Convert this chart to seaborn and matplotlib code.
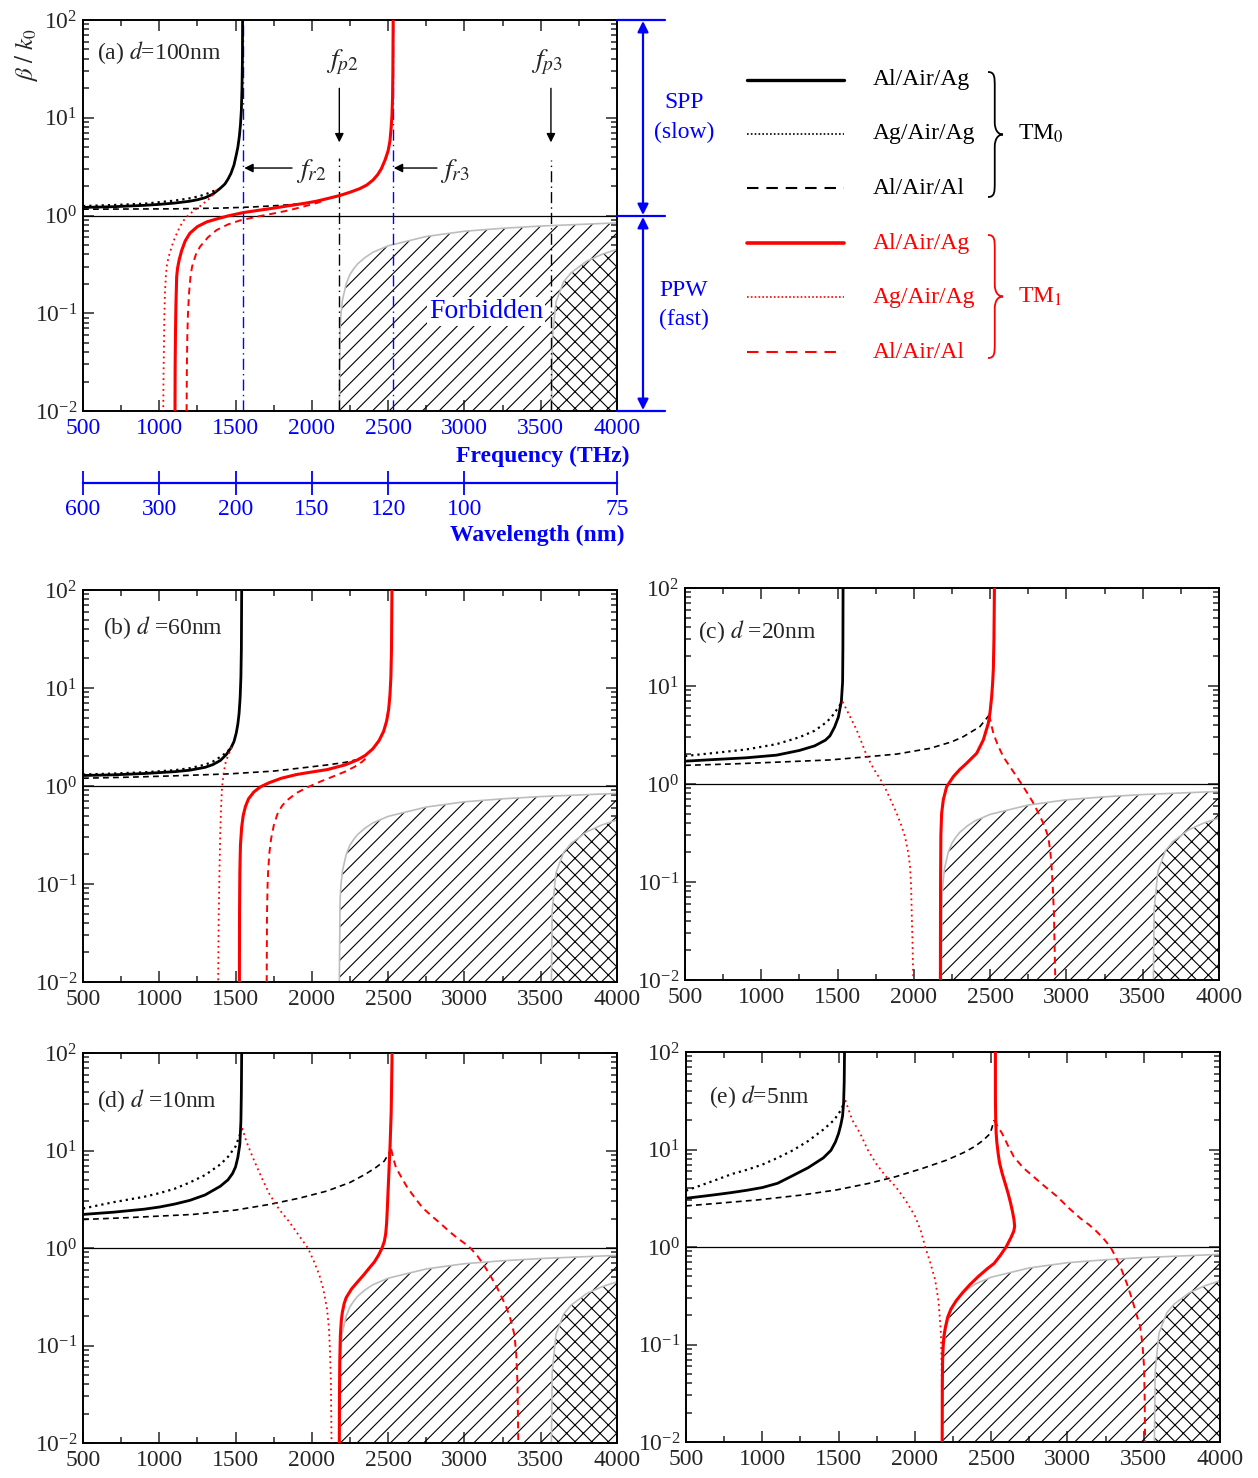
import numpy as np
import pandas as pd
import matplotlib
matplotlib.use("Agg")
import matplotlib.pyplot as plt
import seaborn as sns
from matplotlib.ticker import MultipleLocator, LogLocator, NullFormatter
from matplotlib.path import Path
from matplotlib.patches import PathPatch


W, H = 1258, 1478

# dispersion curves: (frequency in THz, beta/k0)
# TM0: al/air/ag (solid), ag/air/ag (dotted), al/air/al (dashed)
# TM1: same, in red

# (a) d = 100 nm
a_tm0_alag = ([500, 600, 700, 800, 900, 1000, 1100, 1200, 1250, 1300, 1350, 1400, 1430, 1450, 1470,
               1490, 1505, 1515, 1525, 1532, 1538, 1542, 1545, 1546],
              [1.21, 1.22, 1.23, 1.25, 1.27, 1.30, 1.34, 1.40, 1.45, 1.52, 1.65, 1.90, 2.1, 2.35, 2.7,
               3.3, 4.2, 5.0, 6.5, 8.5, 12, 20, 40, 100])
a_tm0_agag = ([500, 700, 900, 1100, 1200, 1250, 1300, 1340, 1372],
              [1.25, 1.28, 1.32, 1.42, 1.50, 1.56, 1.64, 1.74, 1.82])
a_tm0_alal = ([500, 800, 1100, 1400, 1600, 1800, 1950, 2060],
              [1.16, 1.165, 1.17, 1.19, 1.22, 1.27, 1.33, 1.40])
a_tm1_alag = ([1103, 1104, 1106, 1109, 1114, 1120, 1130, 1147, 1170, 1201, 1250, 1311, 1374, 1450,
               1549, 1650, 1750, 1850, 1950, 2030, 2110, 2182, 2250, 2313, 2360, 2400, 2430, 2455,
               2480, 2500, 2512, 2520, 2525, 2529, 2531, 2533],
              [0.01, 0.03, 0.06, 0.12, 0.237, 0.29, 0.35, 0.44, 0.55, 0.66, 0.77, 0.86, 0.92, 0.99,
               1.07, 1.13, 1.19, 1.26, 1.33, 1.40, 1.50, 1.60, 1.73, 1.88, 2.05, 2.3, 2.6, 3.0,
               3.7, 4.6, 5.8, 8, 10.5, 16, 30, 100])
a_tm1_agag = ([1372, 1350, 1320, 1290, 1260, 1225, 1200, 1180, 1160, 1140, 1125, 1110, 1100, 1085,
               1070, 1060, 1050, 1043, 1037, 1033, 1031, 1028, 1026],
              [1.82, 1.62, 1.45, 1.33, 1.22, 1.12, 1.03, 0.97, 0.89, 0.79, 0.71, 0.63, 0.58, 0.50,
               0.42, 0.37, 0.31, 0.24, 0.16, 0.09, 0.05, 0.025, 0.01])
a_tm1_alal = ([1179, 1181, 1184, 1188, 1195, 1205, 1215, 1240, 1267, 1320, 1376, 1450, 1529, 1650,
               1750, 1850, 1950, 2030, 2080],
              [0.01, 0.03, 0.06, 0.10, 0.16, 0.24, 0.30, 0.40, 0.48, 0.60, 0.71, 0.81, 0.89, 0.98,
               1.05, 1.13, 1.24, 1.34, 1.42])

# (b) d = 60 nm
b_tm0_alag = ([500, 700, 900, 1100, 1200, 1300, 1350, 1400, 1440, 1470, 1490, 1505, 1515, 1523,
               1530, 1535, 1538, 1540],
              [1.28, 1.30, 1.34, 1.40, 1.45, 1.55, 1.65, 1.82, 2.1, 2.45, 2.85, 3.5, 4.3, 5.5,
               8, 13, 25, 100])
b_tm0_agag = ([500, 700, 900, 1100, 1200, 1300, 1350, 1400, 1440, 1475],
              [1.31, 1.34, 1.38, 1.45, 1.52, 1.65, 1.77, 1.98, 2.2, 2.5])
b_tm0_alal = ([500, 800, 1100, 1460, 1750, 1966, 2100, 2217, 2290],
              [1.20, 1.23, 1.27, 1.33, 1.42, 1.55, 1.64, 1.74, 1.85])
b_tm1_alag = ([1525, 1526, 1528, 1532, 1540, 1550, 1565, 1585, 1620, 1663, 1720, 1800, 1900, 2000,
               2100, 2217, 2300, 2350, 2400, 2440, 2470, 2490, 2503, 2512, 2518, 2522, 2525],
              [0.01, 0.05, 0.13, 0.25, 0.38, 0.5, 0.62, 0.74, 0.87, 0.98, 1.08, 1.2, 1.31, 1.39,
               1.47, 1.64, 1.85, 2.05, 2.4, 2.9, 3.6, 4.6, 6, 8.5, 13, 25, 100])
b_tm1_agag = ([1475, 1455, 1437, 1425, 1415, 1410, 1405, 1399, 1393, 1389, 1386],
              [2.5, 2.1, 1.8, 1.45, 1.1, 0.9, 0.6, 0.31, 0.1, 0.04, 0.01])
b_tm1_alal = ([1704, 1706, 1710, 1714, 1722, 1733, 1751, 1775, 1805, 1840, 1900, 1966, 2050, 2150,
               2217, 2280, 2330, 2360],
              [0.01, 0.05, 0.1, 0.14, 0.21, 0.29, 0.40, 0.52, 0.63, 0.72, 0.85, 0.96, 1.1, 1.27,
               1.40, 1.57, 1.77, 1.95])

# (c) d = 20 nm
c_tm0_alag = ([500, 700, 900, 1100, 1250, 1350, 1420, 1450, 1480, 1505, 1525, 1533, 1535, 1536],
              [1.71, 1.78, 1.85, 1.97, 2.2, 2.45, 2.8, 3.1, 3.8, 4.8, 7, 11, 25, 100])
c_tm0_agag = ([500, 700, 900, 1100, 1250, 1350, 1430, 1472, 1516, 1533],
              [1.93, 2.08, 2.25, 2.55, 3.0, 3.5, 4.3, 5.1, 6.4, 6.9])
c_tm0_alal = ([500, 800, 1100, 1450, 1700, 1888, 2106, 2250, 2324, 2433, 2494],
              [1.55, 1.60, 1.67, 1.76, 1.9, 2.02, 2.31, 2.7, 3.04, 3.85, 5.06])
c_tm1_alag = ([2174, 2175, 2177, 2182, 2193, 2215, 2259, 2300, 2346, 2412, 2455, 2488, 2500, 2510,
               2516, 2521, 2525, 2528],
              [0.01, 0.1, 0.3, 0.5, 0.69, 0.94, 1.19, 1.4, 1.63, 2.06, 2.81, 4.16, 5.5, 7.8,
               10.5, 15, 30, 100])
c_tm1_agag = ([1533, 1560, 1581, 1625, 1660, 1691, 1734, 1770, 1800, 1844, 1888, 1920, 1942, 1964,
               1975, 1982, 1986, 1991, 1996],
              [6.9, 5.7, 4.9, 3.56, 2.6, 1.95, 1.45, 1.18, 1.0, 0.71, 0.50, 0.37, 0.29, 0.196,
               0.143, 0.09, 0.048, 0.025, 0.01])
c_tm1_alal = ([2494, 2505, 2521, 2550, 2586, 2630, 2674, 2717, 2750, 2783, 2815, 2848, 2881, 2895,
               2903, 2912, 2918, 2927],
              [5.06, 4.2, 3.29, 2.5, 1.9, 1.5, 1.19, 0.94, 0.78, 0.64, 0.51, 0.40, 0.29, 0.2,
               0.143, 0.08, 0.048, 0.01])

# (d) d = 10 nm
d_tm0_alag = ([500, 700, 900, 1000, 1100, 1200, 1300, 1400, 1450, 1480, 1500, 1515, 1528, 1535,
               1538, 1540],
              [2.21, 2.33, 2.5, 2.63, 2.82, 3.08, 3.5, 4.3, 5.0, 5.8, 6.8, 8.5, 11.6, 20,
               40, 100])
d_tm0_agag = ([500, 700, 900, 1000, 1100, 1200, 1300, 1400, 1450, 1500, 1525, 1543],
              [2.54, 2.95, 3.35, 3.65, 4.05, 4.7, 5.6, 7.2, 8.6, 11.0, 14, 17])
d_tm0_alal = ([500, 800, 1222, 1500, 1723, 1920, 2099, 2250, 2350, 2420, 2475, 2520],
              [1.96, 2.05, 2.21, 2.45, 2.8, 3.25, 3.84, 4.7, 5.7, 6.7, 7.8, 10.3])
d_tm1_alag = ([2180, 2181, 2183, 2187, 2193, 2200, 2212, 2225, 2260, 2300, 2340, 2375, 2410, 2438,
               2460, 2475, 2484, 2490, 2495, 2500, 2506, 2513, 2520, 2526],
              [0.01, 0.03, 0.07, 0.128, 0.18, 0.22, 0.27, 0.31, 0.38, 0.45, 0.53, 0.62, 0.72, 0.85,
               1.0, 1.17, 1.4, 1.8, 2.6, 4.0, 6.5, 11.6, 25, 100])
d_tm1_agag = ([1543, 1570, 1600, 1623, 1670, 1723, 1785, 1849, 1910, 1974, 2015, 2049, 2075, 2099,
               2112, 2119, 2125, 2129],
              [17, 12.5, 9.5, 7.8, 5.3, 3.55, 2.5, 1.88, 1.38, 1.0, 0.72, 0.53, 0.38, 0.24,
               0.15, 0.086, 0.04, 0.01])
d_tm1_alal = ([2520, 2535, 2551, 2590, 2626, 2680, 2726, 2790, 2851, 2900, 2952, 3000, 3039, 3085,
               3127, 3170, 3215, 3250, 3278, 3305, 3328, 3340, 3348, 3353],
              [10.3, 8.2, 6.7, 5.2, 4.16, 3.2, 2.58, 2.1, 1.74, 1.48, 1.27, 1.12, 1.0, 0.83,
               0.67, 0.52, 0.39, 0.3, 0.24, 0.18, 0.128, 0.08, 0.04, 0.01])

# (e) d = 5 nm
e_tm0_alag = ([500, 600, 700, 800, 900, 1000, 1100, 1200, 1300, 1400, 1450, 1480, 1500, 1515,
               1526, 1533, 1537, 1539],
              [3.16, 3.3, 3.45, 3.62, 3.82, 4.07, 4.5, 5.4, 6.5, 8.2, 9.8, 12, 14.6, 18,
               22, 30, 50, 100])
e_tm0_agag = ([500, 600, 700, 800, 900, 1000, 1100, 1200, 1300, 1400, 1470, 1513, 1544],
              [3.78, 4.3, 4.9, 5.6, 6.2, 7.0, 8.2, 9.8, 12.2, 16, 20, 25, 32])
e_tm0_alal = ([500, 700, 970, 1250, 1487, 1700, 1874, 2050, 2210, 2320, 2391, 2450, 2494, 2520],
              [2.64, 2.8, 3.04, 3.4, 3.85, 4.5, 5.26, 6.4, 7.8, 9.3, 10.7, 12.5, 14.6, 20])
e_tm1_alag = ([2179, 2180, 2182, 2184, 2190, 2200, 2215, 2236, 2270, 2313, 2360, 2417, 2470, 2520,
               2560, 2598, 2630, 2648, 2654, 2650, 2640, 2628, 2611, 2590, 2572, 2555, 2546, 2537,
               2533, 2530, 2528, 2528],
              [0.01, 0.04, 0.07, 0.089, 0.12, 0.15, 0.19, 0.23, 0.28, 0.34, 0.41, 0.5, 0.59, 0.68,
               0.82, 1.0, 1.25, 1.45, 1.62, 1.9, 2.3, 2.8, 3.56, 4.6, 5.7, 7.3, 9.1, 12,
               14.6, 20, 32, 100])
e_tm1_agag = ([1544, 1590, 1642, 1690, 1745, 1810, 1874, 1940, 2003, 2040, 2068, 2100, 2133, 2155,
               2171, 2176, 2179],
              [32, 20, 14.6, 10, 7.2, 5.3, 4.16, 3.0, 2.05, 1.45, 1.0, 0.7, 0.46, 0.28,
               0.13, 0.05, 0.01])
e_tm1_alal = ([2520, 2545, 2572, 2610, 2649, 2710, 2778, 2850, 2933, 3010, 3088, 3140, 3190, 3240,
               3282, 3315, 3347, 3390, 3424, 3450, 3476, 3492, 3502, 3506, 3509],
              [20, 17, 14.6, 11, 8.4, 6.5, 5.26, 4.2, 3.29, 2.5, 1.95, 1.7, 1.45, 1.2,
               1.0, 0.8, 0.63, 0.42, 0.29, 0.21, 0.155, 0.1, 0.06, 0.03, 0.01])

# forbidden regions (light gray boundaries)
FORB_F = [2180, 2185, 2190, 2200, 2225, 2250, 2275, 2300, 2350, 2400, 2500, 2750, 3000, 3250, 3500, 3750, 4000]
FORB_B = [0.01, 0.068, 0.095, 0.135, 0.20, 0.25, 0.286, 0.32, 0.373, 0.42, 0.49, 0.61, 0.69, 0.74, 0.78, 0.81, 0.84]
CROSS_F = [3570, 3575, 3600, 3650, 3700, 3800, 3900, 4000]
CROSS_B = [0.01, 0.053, 0.13, 0.21, 0.26, 0.34, 0.40, 0.45]

# marker frequencies in panel (a)
FP2, FP3 = 2180, 3567
FR2, FR3 = 1549, 2532

WL_TICKS = [600, 300, 200, 150, 120, 100, 75]
LEGEND_LABELS = ["Al/Air/Ag", "Ag/Air/Ag", "Al/Air/Al"]

CURVE_KEYS = ["tm0_alag", "tm0_agag", "tm0_alal", "tm1_alag", "tm1_agag", "tm1_alal"]

STYLES = {
    "tm0_alag": dict(color="black", lw=2.0, ls="-"),
    "tm0_agag": dict(color="black", lw=1.6, ls=(0, (1, 1.8))),
    "tm0_alal": dict(color="black", lw=1.2, ls=(0, (3.5, 2.5))),
    "tm1_alag": dict(color="red", lw=2.2, ls="-"),
    "tm1_agag": dict(color="red", lw=1.3, ls=(0, (1, 2))),
    "tm1_alal": dict(color="red", lw=1.4, ls=(0, (3.5, 2.5))),
}


def panel_frame(name, curves):
    rows = []
    for key, (f, b) in zip(CURVE_KEYS, curves):
        for i, (fi, bi) in enumerate(zip(f, b)):
            rows.append((name, key, i, fi, bi))
    return pd.DataFrame(rows, columns=["panel", "curve", "idx", "f", "beta"])


PANELS = [
    ("a", (83, 20, 617, 411), "(a) $d$=100nm", (0.026, 0.916),
     [a_tm0_alag, a_tm0_agag, a_tm0_alal, a_tm1_alag, a_tm1_agag, a_tm1_alal]),
    ("b", (83, 590, 617, 982), "(b) $d$ =60nm", (0.037, 0.903),
     [b_tm0_alag, b_tm0_agag, b_tm0_alal, b_tm1_alag, b_tm1_agag, b_tm1_alal]),
    ("c", (685, 588, 1219, 980), "(c) $d$ =20nm", (0.024, 0.89),
     [c_tm0_alag, c_tm0_agag, c_tm0_alal, c_tm1_alag, c_tm1_agag, c_tm1_alal]),
    ("d", (83, 1053, 617, 1443), "(d) $d$ =10nm", (0.026, 0.877),
     [d_tm0_alag, d_tm0_agag, d_tm0_alal, d_tm1_alag, d_tm1_agag, d_tm1_alal]),
    ("e", (686, 1052, 1220, 1442), "(e) $d$=5nm", (0.043, 0.885),
     [e_tm0_alag, e_tm0_agag, e_tm0_alal, e_tm1_alag, e_tm1_agag, e_tm1_alal]),
]


def rect(l, t, r, b):
    return [l / W, 1 - b / H, (r - l) / W, (b - t) / H]


def style_axis(ax):
    ax.set_xlim(500, 4000)
    ax.set_yscale("log")
    ax.set_ylim(1e-2, 1e2)
    ax.xaxis.set_major_locator(MultipleLocator(500))
    ax.xaxis.set_minor_locator(MultipleLocator(250))
    ax.yaxis.set_major_locator(LogLocator(base=10, numticks=10))
    ax.yaxis.set_minor_locator(LogLocator(base=10, subs=np.arange(2, 10), numticks=20))
    ax.yaxis.set_minor_formatter(NullFormatter())
    ax.tick_params(which="both", direction="in", top=True, right=True,
                   labelsize=17, width=1.1, pad=4)
    ax.tick_params(axis="x", which="both", pad=5)
    ax.tick_params(which="major", length=8)
    ax.tick_params(which="minor", length=4)
    for s in ax.spines.values():
        s.set_linewidth(1.4)
        s.set_color("black")
    ax.set_xlabel("")
    ax.set_ylabel("")


def draw_forbidden(ax):
    ax.fill_between(FORB_F, FORB_B, 1e-2, facecolor="none", edgecolor="black",
                    hatch="//", linewidth=0, zorder=1)
    ax.fill_between(CROSS_F, CROSS_B, 1e-2, facecolor="white", edgecolor="black",
                    hatch="xx", linewidth=0, zorder=1.2)
    ax.plot(FORB_F, FORB_B, color="#bdbdbd", lw=1.2, zorder=1.5)
    ax.plot(CROSS_F, CROSS_B, color="#bdbdbd", lw=1.2, zorder=1.5)


def brace(ax, x0, yt, yb, w, color):
    ym = (yt + yb) / 2
    h = yb - yt
    xm = x0 + w * 0.45
    verts = [
        (x0, yt),
        (xm, yt), (xm, yt + 0.04 * h), (xm, yt + 0.12 * h),
        (xm, ym - 0.10 * h),
        (xm, ym - 0.03 * h), (x0 + w * 0.7, ym), (x0 + w, ym),
        (x0 + w * 0.7, ym), (xm, ym + 0.03 * h), (xm, ym + 0.10 * h),
        (xm, yb - 0.12 * h),
        (xm, yb - 0.04 * h), (xm, yb), (x0, yb),
    ]
    codes = [Path.MOVETO,
             Path.CURVE4, Path.CURVE4, Path.CURVE4,
             Path.LINETO,
             Path.CURVE4, Path.CURVE4, Path.CURVE4,
             Path.CURVE4, Path.CURVE4, Path.CURVE4,
             Path.LINETO,
             Path.CURVE4, Path.CURVE4, Path.CURVE4]
    ax.add_patch(PathPatch(Path(verts, codes), facecolor="none", edgecolor=color, lw=1.3))


sns.set_theme(style="ticks")
plt.rcParams["font.family"] = ["Liberation Serif", "DejaVu Serif"]
plt.rcParams["mathtext.fontset"] = "stix"
plt.rcParams["hatch.linewidth"] = 0.8

fig = plt.figure(figsize=(W / 100, H / 100), dpi=100)
fig.patch.set_facecolor("white")

axes = {}
for name, box, label, lpos, curves in PANELS:
    ax = fig.add_axes(rect(*box))
    ax.set_facecolor("white")
    axes[name] = ax
    df = panel_frame(name, curves)
    draw_forbidden(ax)
    ax.axhline(1.0, color="black", lw=0.9, zorder=2)
    for key in CURVE_KEYS:
        st = STYLES[key]
        sub = df[df["curve"] == key]
        sns.lineplot(data=sub, x="f", y="beta", ax=ax, sort=False, estimator=None,
                     color=st["color"], lw=st["lw"], linestyle=st["ls"], zorder=3)
    style_axis(ax)
    ax.text(lpos[0], lpos[1], label, transform=ax.transAxes, fontsize=17,
            ha="left", va="center")

# extras of panel (a)
ax = axes["a"]
ax.tick_params(axis="x", labelcolor="blue")
ax.text(-0.105, 0.91, r"$\beta\ /\ k_0$", transform=ax.transAxes, rotation=90,
        fontsize=18, ha="center", va="center")
ax.axvline(FR2, color="blue", lw=1.0, ls=(0, (8, 3, 1, 3)), zorder=2.5)
ax.axvline(FR3, color="blue", lw=1.0, ls=(0, (8, 3, 1, 3)), zorder=2.5)
ax.vlines([FP2], 1e-2, 3.9, color="black", lw=1.0, ls=(0, (8, 3, 1, 3)), zorder=2.5)
ax.vlines([FP3], 1e-2, 3.7, color="black", lw=1.0, ls=(0, (8, 3, 1, 3)), zorder=2.5)
arrow = dict(arrowstyle="-|>", color="black", lw=1.0, mutation_scale=13, shrinkA=0, shrinkB=0)
ax.annotate("", xy=(FP2, 5.6), xytext=(FP2, 20), arrowprops=arrow)
ax.annotate("", xy=(FP3, 5.6), xytext=(FP3, 20), arrowprops=arrow)
ax.annotate("", xy=(FR2 + 8, 3.06), xytext=(1870, 3.06), arrowprops=arrow)
ax.annotate("", xy=(FR3 + 5, 3.06), xytext=(2820, 3.06), arrowprops=arrow)
ax.text(2198, 37, r"$f_{p\mathit{2}}$", fontsize=20, ha="center", va="center")
ax.text(3541, 37, r"$f_{p\mathit{3}}$", fontsize=20, ha="center", va="center")
ax.text(1995, 2.85, r"$f_{r\mathit{2}}$", fontsize=20, ha="center", va="center")
ax.text(2938, 2.85, r"$f_{r\mathit{3}}$", fontsize=20, ha="center", va="center")
ax.text(3141, 0.105, "Forbidden", color="blue", fontsize=20, ha="center", va="center",
        zorder=4, bbox=dict(facecolor="white", edgecolor="none", pad=1.5))

# wavelength scale under panel (a)
axw = fig.add_axes(rect(83, 460, 617, 483))
axw.set_facecolor("none")
axw.set_xlim(500, 4000)
axw.set_yticks([])
for s in ["left", "right", "top"]:
    axw.spines[s].set_visible(False)
axw.spines["bottom"].set_color("blue")
axw.spines["bottom"].set_linewidth(1.6)
axw.set_xticks(3e5 / np.array(WL_TICKS, dtype=float))
axw.set_xticklabels([str(v) for v in WL_TICKS])
axw.tick_params(axis="x", direction="inout", length=17, width=1.3, color="blue",
                labelcolor="blue", labelsize=17, pad=3)

# overlay in pixel coordinates for annotations outside the axes
ov = fig.add_axes([0, 0, 1, 1], facecolor="none")
ov.set_xlim(0, W)
ov.set_ylim(H, 0)
ov.axis("off")

ov.text(630, 456, "Frequency (THz)", color="blue", fontsize=17, fontweight="bold",
        ha="right", va="center")
ov.text(625, 535, "Wavelength (nm)", color="blue", fontsize=17, fontweight="bold",
        ha="right", va="center")

for yy in [20, 216, 411]:
    ov.plot([617, 665], [yy, yy], color="blue", lw=1.6)
barrow = dict(arrowstyle="<|-|>", color="blue", lw=1.6, mutation_scale=16, shrinkA=0, shrinkB=0)
ov.annotate("", xy=(643, 21), xytext=(643, 215), arrowprops=barrow)
ov.annotate("", xy=(643, 217), xytext=(643, 410), arrowprops=barrow)
ov.text(684, 103, "SPP", color="blue", fontsize=17, ha="center", va="center")
ov.text(684, 132, "(slow)", color="blue", fontsize=17, ha="center", va="center")
ov.text(684, 290, "PPW", color="blue", fontsize=17, ha="center", va="center")
ov.text(684, 319, "(fast)", color="blue", fontsize=17, ha="center", va="center")

# legend
leg_y = [80, 134, 188, 243, 297, 352]
leg_ls = {
    "tm0_alag": "-", "tm0_agag": (0, (1, 1.3)), "tm0_alal": (0, (5.5, 3.8)),
    "tm1_alag": "-", "tm1_agag": (0, (1, 1.3)), "tm1_alal": (0, (5.5, 3.8)),
}
leg_lw = {"tm0_alag": 2.4, "tm0_agag": 1.2, "tm0_alal": 1.5,
          "tm1_alag": 2.6, "tm1_agag": 1.2, "tm1_alal": 1.5}
for i, key in enumerate(CURVE_KEYS):
    col = STYLES[key]["color"]
    ov.plot([747, 844], [leg_y[i], leg_y[i]], color=col, lw=leg_lw[key], ls=leg_ls[key])
    ov.text(873, leg_y[i], LEGEND_LABELS[i % 3], color=col, fontsize=17, ha="left", va="center")

brace(ov, 988, 72, 197, 15, "black")
brace(ov, 988, 235, 358, 15, "red")
ov.text(1018, 134, r"TM$_0$", color="black", fontsize=17, ha="left", va="center")
ov.text(1018, 297, r"TM$_1$", color="red", fontsize=17, ha="left", va="center")

fig.savefig("out.png", dpi=100)
